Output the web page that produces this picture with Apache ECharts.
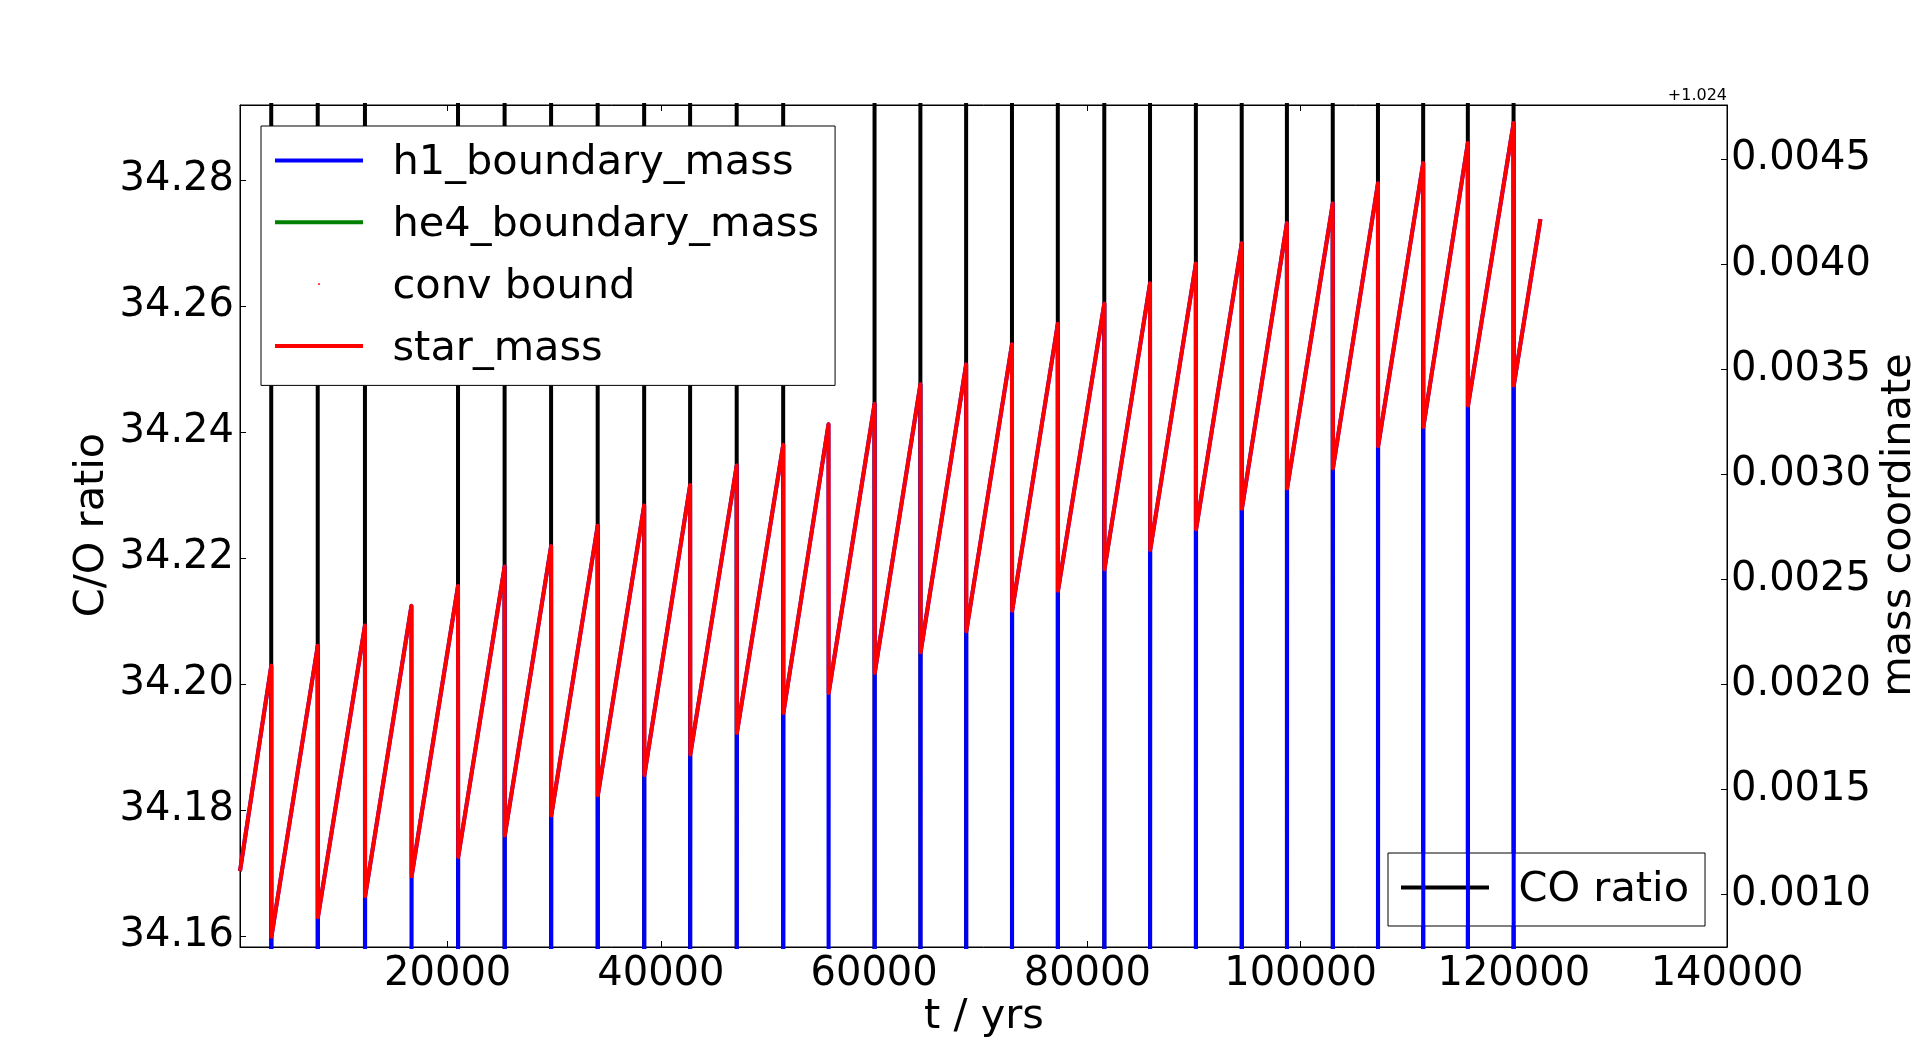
<!DOCTYPE html>
<html><head><meta charset="utf-8">
<script src="https://cdn.jsdelivr.net/npm/echarts@6/dist/echarts.min.js"></script>
<style>html,body{margin:0;padding:0;background:#fff}#c{width:1918px;height:1052px}</style>
</head><body><div id="c"></div>
<script>
// ---- data ----
const xTickValues = [20000, 40000, 60000, 80000, 100000, 120000, 140000];
const leftTickValues = [34.16, 34.18, 34.20, 34.22, 34.24, 34.26, 34.28];
const rightTickValues = [1.0250, 1.0255, 1.0260, 1.0265, 1.0270, 1.0275, 1.0280, 1.0285];
const massOffset = 1.024;

// thermal pulse times (yrs)
const pulseTimes = [3450, 7810, 12240, 16600, 20970, 25340, 29700, 34070, 38430, 42740,
  47110, 51470, 55720, 60040, 64340, 68630, 72930, 77230, 81590, 85880,
  90180, 94480, 98720, 103020, 107260, 111500, 115690, 119980];
// star mass just before each pulse (peak of the saw tooth)
const peakMass = [1.026089, 1.026184, 1.026281, 1.026374, 1.026469, 1.026561, 1.026659, 1.026755, 1.026852, 1.026949,
  1.027042, 1.027140, 1.027238, 1.027335, 1.027428, 1.027523, 1.027619, 1.027716, 1.027812, 1.027909,
  1.028003, 1.028099, 1.028195, 1.028288, 1.028385, 1.028481, 1.028576, 1.028671];
// star mass just after each pulse (bottom of the saw tooth)
const troughMass = [1.024800, 1.024893, 1.024993, 1.025088, 1.025179, 1.025282, 1.025377, 1.025473, 1.025569, 1.025667,
  1.025769, 1.025864, 1.025960, 1.026055, 1.026153, 1.026253, 1.026351, 1.026446, 1.026548, 1.026640,
  1.026738, 1.026836, 1.026933, 1.027029, 1.027134, 1.027225, 1.027327, 1.027423];
const startPoint = [520, 1.025112];
const endPoint = [122500, 1.028214];
// h1 boundary drops far below the shown range during each pulse
const h1DipMass = 1.0244;
// C/O ratio spikes (pulses where the black spike is visible)
const coSpikeTimes = [3450, 7810, 12240, 20970, 25340, 29700, 34070, 38430, 42740,
  47110, 51470, 60040, 64340, 68630, 72930, 77230, 81590, 85880,
  90180, 94480, 98720, 103020, 107260, 111500, 115690, 119980];
const coBaseline = 34.10;
const coSpike = 34.40;
const heBoundary = [];
const convBound = [];

// ---- build series data ----
const starData = [startPoint.slice()];
const h1Data = [startPoint.slice()];
pulseTimes.forEach((t, i) => {
  starData.push([t, peakMass[i]], [t + 20, troughMass[i]]);
  h1Data.push([t, peakMass[i]], [t + 10, h1DipMass], [t + 20, troughMass[i]]);
});
starData.push(endPoint.slice());
h1Data.push(endPoint.slice());
const coData = [[startPoint[0], coBaseline]];
coSpikeTimes.forEach(t => { coData.push([t, coBaseline], [t, coSpike], [t, coBaseline]); });
coData.push([endPoint[0], coBaseline]);

const FONT = 'DejaVu Sans';
const lineIcon = 'path://M0,0H88V4H0ZM112.5,10';
const dotIcon = 'path://M0,0M112.5,10M43,1.2H45V2.8H43Z';

const chart = echarts.init(document.getElementById('c'), null, {renderer: 'canvas'});
const tickStyle = {show: true, inside: true, length: 6, lineStyle: {color: '#000', width: 1}};
const legendText = {fontSize: 41.5, fontFamily: FONT, color: '#000'};
chart.setOption({
  animation: false,
  backgroundColor: '#fff',
  textStyle: {fontFamily: FONT},
  grid: {left: 240, top: 105, width: 1487, height: 842, show: true, borderColor: '#000', borderWidth: 1, backgroundColor: 'transparent'},
  xAxis: [{
    type: 'value', position: 'bottom', min: 520, max: 140000,
    axisLine: {show: true, lineStyle: {color: '#000', width: 1}},
    axisTick: Object.assign({customValues: xTickValues}, tickStyle),
    axisLabel: {customValues: xTickValues, fontSize: 40, fontFamily: FONT, color: '#000', margin: 8,
      formatter: v => String(Math.round(v))},
    splitLine: {show: false}
  }, {
    type: 'value', position: 'top', min: 520, max: 140000,
    axisLine: {show: true, lineStyle: {color: '#000', width: 1}},
    axisTick: Object.assign({customValues: xTickValues}, tickStyle),
    axisLabel: {show: false},
    splitLine: {show: false}
  }],
  yAxis: [{
    type: 'value', position: 'left', min: 34.15825, max: 34.2919,
    axisLine: {show: true, lineStyle: {color: '#000', width: 1}},
    axisTick: Object.assign({customValues: leftTickValues}, tickStyle),
    axisLabel: {customValues: leftTickValues, fontSize: 40, fontFamily: FONT, color: '#000', margin: 6,
      formatter: v => v.toFixed(2)},
    splitLine: {show: false}
  }, {
    type: 'value', position: 'right', min: 1.024751, max: 1.028757,
    axisLine: {show: true, lineStyle: {color: '#000', width: 1}},
    axisTick: Object.assign({customValues: rightTickValues}, tickStyle),
    axisLabel: {customValues: rightTickValues, fontSize: 40, fontFamily: FONT, color: '#000', margin: 4,
      formatter: v => (v - massOffset).toFixed(4)},
    splitLine: {show: false}
  }],
  legend: [{
    z: 10, left: 261, top: 126, orient: 'vertical', selectedMode: false,
    padding: [16.5, 16, 15.5, 14], itemGap: 19.8, itemWidth: 112.5, itemHeight: 10,
    backgroundColor: '#fff', borderColor: '#000', borderWidth: 1, borderRadius: 0,
    itemStyle: {borderWidth: 0},
    textStyle: legendText,
    data: [
      {name: 'h1_boundary_mass', icon: lineIcon},
      {name: 'he4_boundary_mass', icon: lineIcon},
      {name: 'conv bound', icon: dotIcon},
      {name: 'star_mass', icon: lineIcon}
    ]
  }, {
    z: 2, left: 1388, top: 853, orient: 'vertical', selectedMode: false,
    padding: [16.5, 16, 14.5, 13], itemWidth: 112.5, itemHeight: 10,
    backgroundColor: '#fff', borderColor: '#000', borderWidth: 1, borderRadius: 0,
    itemStyle: {borderWidth: 0},
    textStyle: legendText,
    data: [{name: 'CO ratio', icon: lineIcon}]
  }],
  graphic: [
    {type: 'text', x: 92, y: 525, rotation: Math.PI / 2, z: 20,
      style: {text: 'C/O ratio', fontSize: 41.5, fontFamily: FONT, fill: '#000', textAlign: 'center', textVerticalAlign: 'middle'}},
    {type: 'text', x: 1899, y: 525, rotation: Math.PI / 2, z: 20,
      style: {text: 'mass coordinate', fontSize: 41.5, fontFamily: FONT, fill: '#000', textAlign: 'center', textVerticalAlign: 'middle'}},
    {type: 'text', x: 984, y: 1017, z: 20,
      style: {text: 't / yrs', fontSize: 41.5, fontFamily: FONT, fill: '#000', textAlign: 'center', textVerticalAlign: 'middle'}},
    {type: 'text', x: 1727, y: 96, z: 20,
      style: {text: '+1.024', fontSize: 16, fontFamily: FONT, fill: '#000', textAlign: 'right', textVerticalAlign: 'middle'}}
  ],
  series: [
    {name: 'CO ratio', type: 'line', xAxisIndex: 0, yAxisIndex: 0, z: 1, data: coData, color: '#000',
      showSymbol: false, symbol: 'none', clip: true, lineStyle: {width: 4, color: '#000', join: 'round'}},
    {name: 'h1_boundary_mass', type: 'line', xAxisIndex: 0, yAxisIndex: 1, z: 3, data: h1Data, color: '#0000ff',
      showSymbol: false, symbol: 'none', clip: true, lineStyle: {width: 4, color: '#0000ff', join: 'round'}},
    {name: 'he4_boundary_mass', type: 'line', xAxisIndex: 0, yAxisIndex: 1, z: 3, data: heBoundary, color: '#008000',
      showSymbol: false, symbol: 'none', clip: true, lineStyle: {width: 4, color: '#008000'}},
    {name: 'conv bound', type: 'scatter', xAxisIndex: 0, yAxisIndex: 1, z: 3, data: convBound, color: '#ff0000',
      symbolSize: 1.5, clip: true},
    {name: 'star_mass', type: 'line', xAxisIndex: 0, yAxisIndex: 1, z: 3, data: starData, color: '#ff0000',
      showSymbol: false, symbol: 'none', clip: true, lineStyle: {width: 4, color: '#ff0000', join: 'round'}}
  ]
});
</script></body></html>
